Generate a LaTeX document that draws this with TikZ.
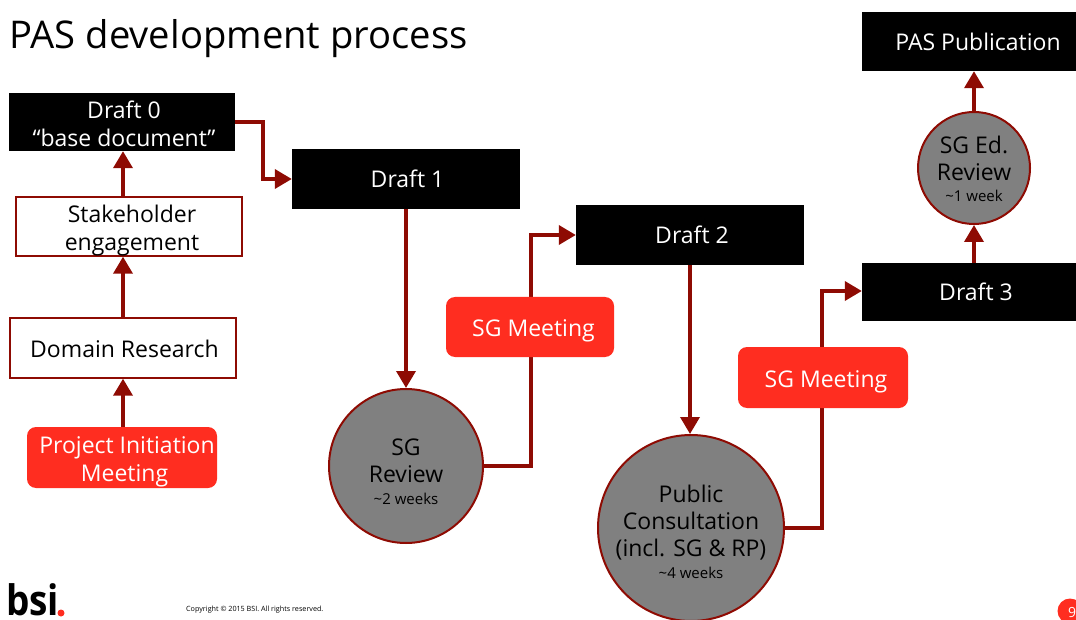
\documentclass[tikz,border=0pt]{standalone}
\usepackage{fontspec}
\setmainfont{Open Sans}
\usetikzlibrary{arrows.meta}
\definecolor{darkred}{HTML}{8E0B03}
\definecolor{bsired}{HTML}{FF2D20}
\begin{document}
\begin{tikzpicture}[x=1pt,y=-1pt,
    draftbox/.style={fill=black,text=white,font=\fontsize{23}{28}\selectfont,minimum width=228pt,minimum height=60pt,align=center,inner sep=0pt,text height=18pt},
    whitebox/.style={draw=darkred,line width=1.4pt,fill=white,font=\fontsize{23}{28}\selectfont,minimum width=226pt,minimum height=59pt,align=center,inner sep=0pt,text height=53pt},
    meetbox/.style={fill=bsired,text=white,rounded corners=9pt,font=\fontsize{23}{28}\selectfont,minimum width=168pt,minimum height=60pt,align=center,inner sep=0pt,text height=24pt},
    reviewcirc/.style={circle,draw=darkred,line width=2pt,fill=black!50,font=\fontsize{23}{27}\selectfont,align=center,inner sep=-30pt},
    flow/.style={draw=darkred,line width=3.6pt,-{Triangle[length=17pt,width=19pt]}}]
      \useasboundingbox (0,0) rectangle (1076,620);

      \node[anchor=west,font=\fontsize{38.2}{46}\selectfont] (title) at (6,39) {PAS development process};

      \node[draftbox,minimum width=226pt,minimum height=58pt,text height=49pt] (draft0) at (122,122) {\hspace*{4pt}Draft 0\\ \hspace*{4pt}“base document”};
      \node[draftbox] (draft1) at (406,179) {\hspace*{3pt}Draft 1};
      \node[draftbox] (draft2) at (690,235) {\hspace*{4pt}Draft 2};
      \node[draftbox,minimum width=214pt,minimum height=58pt] (draft3) at (969,292) {\hspace*{14pt}Draft 3};
      \node[draftbox,minimum width=214pt,minimum height=59pt] (pub) at (969,41.5) {\hspace*{18pt}PAS Publication};

      \node[whitebox] (stake) at (129,226.5) {\hspace*{6pt}Stakeholder\\ \hspace*{6pt}engagement};
      \node[whitebox,minimum height=60pt,text height=20pt] (domain) at (123,348) {\hspace*{3pt}Domain Research};

      \node[reviewcirc,minimum size=154pt,text height=77pt] (review) at (406,466) {SG\\ Review\\[-5pt] {\fontsize{15}{17}\selectfont \textasciitilde2 weeks}};
      \node[reviewcirc,minimum size=186pt,text height=101pt] (public) at (691,528) {Public\\ Consultation\\ (incl. SG \& RP)\\[-5pt] {\fontsize{15}{17}\selectfont \textasciitilde4 weeks}};
      \node[reviewcirc,minimum size=112pt,text height=67pt] (edreview) at (974,168) {SG Ed.\\ Review\\[-6pt] {\fontsize{15}{17}\selectfont \textasciitilde1 week}};

      \draw[flow] (draft0.east |- 0,122) -- (263,122) -- (263,179) -- (draft1.west);
      \draw[flow] (review.east) -- (531,466) -- (531,235) -- (draft2.west);
      \draw[flow] (public.east) -- (822,528) -- (822,291) -- (draft3.west |- 0,291);
      \draw[flow] (draft1) -- (review);
      \draw[flow] (draft2.south) -- (public.north -| draft2.south);
      \draw[flow] (draft3.north -| edreview) -- (edreview);
      \draw[flow] (edreview) -- (pub.south -| edreview);

      \node[meetbox] (meet1) at (530,327) {\hspace*{7pt}SG Meeting};
      \node[meetbox,minimum width=170pt,minimum height=61pt,text height=26pt] (meet2) at (823,377.5) {\hspace*{6pt}SG Meeting};
      \node[meetbox,minimum width=190pt,minimum height=61pt,text height=53pt] (pim) at (122,457.5) {\hspace*{10pt}Project Initiation\\ \hspace*{5pt}Meeting};

      \draw[flow] (stake.north -| 123,0) -- (draft0.south -| 123,0);
      \draw[flow] (domain.north) -- (stake.south -| domain.north);
      \draw[flow] (pim.north -| domain.south) -- (domain.south);

      % footer
      \node[anchor=base west,font=\fontsize{42}{42}\selectfont\bfseries,inner sep=0pt] (logo) at (6,615) {\scalebox{.88}[1]{bsi}};
      \fill[bsired] (61,613) circle (3.5);
      \node[anchor=west,font=\fontsize{7.2}{9}\selectfont,inner sep=0pt] (copy) at (186,610) {Copyright © 2015 BSI. All rights reserved.};
      \node[circle,fill=bsired,minimum size=25pt,inner sep=0pt] (pageno) at (1070,611) {};
      \node[text=white,font=\fontsize{14}{16}\selectfont,inner sep=0pt] (nine) at (1072,612) {9};
    \end{tikzpicture}
\end{document}
